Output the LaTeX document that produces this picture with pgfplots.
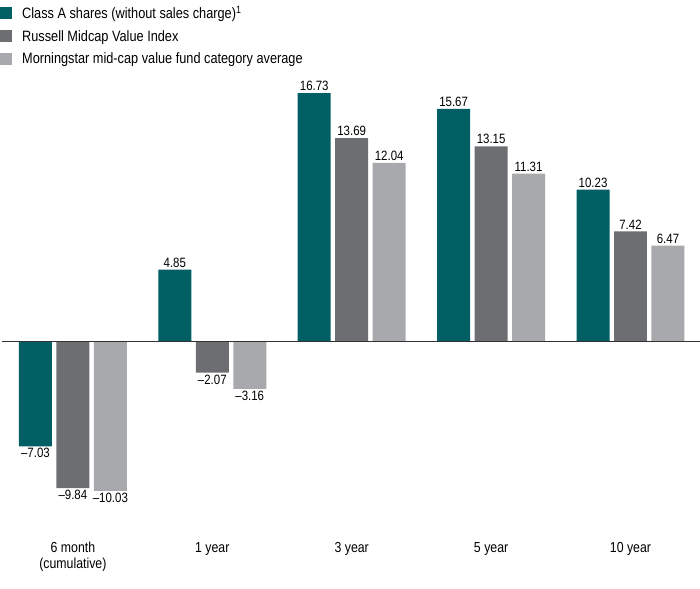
\documentclass[border=0pt]{standalone}
\usepackage{pgfplots}
\pgfplotsset{compat=1.18}
\usepackage{fontspec}
\setmainfont{Liberation Sans}[FakeStretch=0.85]
\definecolor{cteal}{HTML}{005F63}
\definecolor{cdark}{HTML}{6D6E71}
\definecolor{clight}{HTML}{A7A9AC}
\begin{document}
\begin{tikzpicture}
\begin{axis}[
  scale only axis, width=700pt, height=589pt,
  xmin=-0.523, xmax=4.495, ymin=-16.6, ymax=22.98,
  axis line style={draw=none},
  ytick=\empty, xtick={0,1,2,3,4},
  xticklabels={{6 month\\(cumulative)},{1 year},{3 year},{5 year},{10 year}},
  xticklabel style={align=center, yshift=50pt, font=\fontsize{14.5}{15.5}\selectfont},
  major tick length=0pt,
  ybar=4.5pt, bar width=33pt,
  nodes near coords, point meta=explicit symbolic,
  visualization depends on={value \thisrow{pos} \as \lpos},
  every node near coord/.append style={font=\fontsize{13.5}{14}\selectfont, text=black, inner sep=2pt, anchor=\lpos},
  clip=false,
  legend style={at={(rel axis cs:0,1)}, anchor=north west, draw=none, fill=none,
    font=\fontsize{15}{17}\selectfont, row sep=6pt, column sep=8pt, inner xsep=0pt, inner ysep=4pt},
  legend cell align=left,
  legend image code/.code={\fill[#1] (2pt,-6pt) rectangle (14pt,6pt);},
]
\path (rel axis cs:0,0) rectangle (rel axis cs:1,1);
\addplot[fill=cteal, draw=none] table[meta=label] {
x y label pos
0 -7.03 –7.03 north
1 4.85 4.85 south
2 16.73 16.73 south
3 15.67 15.67 south
4 10.23 10.23 south
};
\addplot[fill=cdark, draw=none] table[meta=label] {
x y label pos
0 -9.84 –9.84 north
1 -2.07 –2.07 north
2 13.69 13.69 south
3 13.15 13.15 south
4 7.42 7.42 south
};
\addplot[fill=clight, draw=none] table[meta=label] {
x y label pos
0 -10.03 –10.03 north
1 -3.16 –3.16 north
2 12.04 12.04 south
3 11.31 11.31 south
4 6.47 6.47 south
};
\legend{Class A shares (without sales charge)\textsuperscript{1}, Russell Midcap Value Index, Morningstar mid-cap value fund category average}
\draw[black!80, line width=1pt] (axis cs:-0.508,0) -- (axis cs:4.495,0);
\end{axis}
\end{tikzpicture}
\end{document}
